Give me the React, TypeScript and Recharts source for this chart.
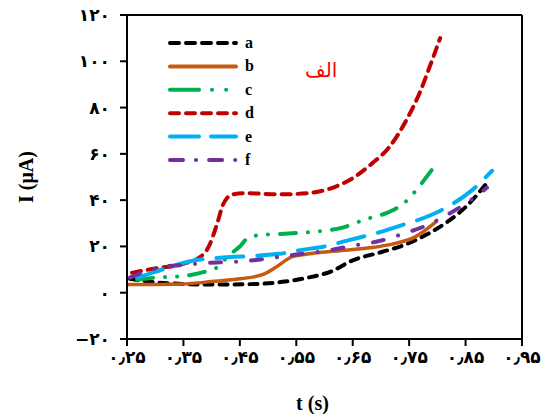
import React from 'react';
import { LineChart, Line, XAxis, YAxis, ReferenceLine, Label } from 'recharts';

// ---- data ----
const seriesNames = ['a', 'b', 'c', 'd', 'e', 'f'];

const tA = [0.255, 0.3, 0.4, 0.48, 0.53, 0.57, 0.61, 0.65, 0.7, 0.74, 0.78, 0.82, 0.85, 0.888];
const iA = [6.0, 4.5, 3.5, 3.8, 4.8, 6.5, 9, 14, 17.5, 20.5, 25, 31, 37, 47.5];

const tB = [0.25, 0.35, 0.4, 0.45, 0.49, 0.515, 0.543, 0.573, 0.62, 0.68, 0.72, 0.76, 0.798];
const iB = [3.5, 3.8, 4.8, 6.0, 7.8, 11.2, 15.6, 16.8, 18, 19.4, 21, 24, 30.7];

const tC = [0.268, 0.3, 0.35, 0.38, 0.41, 0.43, 0.45, 0.465, 0.49, 0.53, 0.58, 0.63, 0.67, 0.72, 0.74, 0.768, 0.79];
const iC = [5.6, 6.5, 7.2, 8.6, 11, 16, 20, 23.8, 25, 25.5, 26.3, 28, 31.5, 35.5, 38.5, 46, 53];

const tD = [0.259, 0.3, 0.35, 0.38, 0.395, 0.41, 0.42, 0.437, 0.46, 0.52, 0.57, 0.61, 0.65, 0.685, 0.715, 0.745, 0.768, 0.79, 0.805];
const iD = [8.6, 10.5, 12.5, 15.5, 20, 30, 38, 42.5, 43, 42.5, 43, 45, 49.5, 56, 63, 74.5, 86, 100, 110];

const tE = [0.268, 0.3, 0.33, 0.37, 0.42, 0.48, 0.52, 0.56, 0.6, 0.64, 0.7, 0.74, 0.79, 0.815, 0.86, 0.897];
const iE = [6.5, 9, 11.5, 14, 15.2, 16, 16.8, 18.5, 20, 22.5, 26.3, 29.4, 33.7, 36.7, 44, 52.7];

const tF = [0.255, 0.28, 0.31, 0.35, 0.4, 0.45, 0.5, 0.55, 0.6, 0.65, 0.7, 0.74, 0.78, 0.82, 0.85, 0.888];
const iF = [6.5, 9, 11, 12, 13, 13.5, 14.8, 16.5, 18, 20.3, 22.5, 25.5, 29, 34, 38.5, 45.4];

const xTicks = [0.25, 0.35, 0.45, 0.55, 0.65, 0.75, 0.85, 0.95];
const yTicks = [-20, 0, 20, 40, 60, 80, 100, 120];

const xTitle = 't (s)';
const yTitle = 'I (\u03BCA)';
const panelTitle = 'الف';

// ---- styles ----
const colors = ['#000000', '#C55A11', '#00B050', '#C00000', '#00B0F0', '#7030A0'];
const dashes = ['8 7', undefined, '16 12 0.1 12 0.1 12', '9 7', '27 14', '11 15 0.1 15'];
const legendDashes = ['9 7', undefined, '29 13 0.1 14 0.1 100', '9 7', '29 12', '13 13 0.1 13'];

const series = [
  [tA, iA], [tB, iB], [tC, iC], [tD, iD], [tE, iE], [tF, iF],
].map(([ts, is]) => ts.map((t, k) => ({ t, v: is[k] })));

const faDigits = '۰۱۲۳۴۵۶۷۸۹';
const fa = (n: number) => {
  const s = String(Math.round(n * 100) / 100);
  return s
    .replace(/[0-9]/g, (d) => faDigits[Number(d)])
    .replace('.', '٫')
    .replace('-', '\u2212');
};

const serif = "'Times New Roman', 'Liberation Serif', 'DejaVu Serif', serif";
const tickStyle = { fill: '#000', fontSize: 17, fontWeight: 700, fontFamily: "'DejaVu Sans', sans-serif" };

function LegendBox() {
  const rowH = 23.4;
  return (
    <svg width={110} height={150} style={{ position: 'absolute', left: 160, top: 31 }}>
      {seriesNames.map((n, k) => {
        const y = 12 + k * rowH;
        return (
          <g key={n}>
            <line x1={10} x2={76} y1={y} y2={y} stroke={colors[k]} strokeWidth={4}
              strokeDasharray={legendDashes[k]} strokeLinecap="round" />
            <text x={85} y={y + 5} fontFamily={serif} fontWeight={700} fontSize={16} fill="#000">{n}</text>
          </g>
        );
      })}
    </svg>
  );
}

export default function App() {
  return (
    <div style={{ position: 'absolute', left: 0, top: 0, width: 549, height: 414, background: '#fff' }}>
      <LineChart width={549} height={414} margin={{ top: 15, right: 27, bottom: 0, left: 0 }}>
        <XAxis type="number" dataKey="t" domain={[0.25, 0.95]} ticks={xTicks} tickFormatter={fa}
          height={75} tickSize={7} tickMargin={5} allowDataOverflow
          axisLine={{ stroke: '#000', strokeWidth: 2 }} tickLine={{ stroke: '#000', strokeWidth: 2 }}
          tick={tickStyle}>
          <Label value={xTitle} position="insideBottom" offset={4} dx={-12}
            style={{ fill: '#000', fontSize: 20, fontWeight: 700, fontFamily: serif }} />
        </XAxis>
        <YAxis type="number" domain={[-20, 120]} ticks={yTicks} tickFormatter={fa}
          width={127} tickSize={7} tickMargin={10} allowDataOverflow
          axisLine={{ stroke: '#000', strokeWidth: 2 }} tickLine={{ stroke: '#000', strokeWidth: 2 }}
          tick={tickStyle}>
          <Label value={yTitle} position="insideLeft" offset={26} angle={-90}
            style={{ fill: '#000', fontSize: 20, fontWeight: 700, fontFamily: serif, textAnchor: 'middle' }} />
        </YAxis>
        <ReferenceLine y={120} stroke="#000" strokeWidth={2} />
        <ReferenceLine x={0.95} stroke="#000" strokeWidth={2} />
        {series.map((d, k) => (
          <Line key={seriesNames[k]} data={d} dataKey="v" name={seriesNames[k]} type="monotone"
            stroke={colors[k]} strokeWidth={k === 1 ? 3.5 : 4} strokeDasharray={dashes[k]}
            strokeLinecap="round" dot={false} activeDot={false} isAnimationActive={false} />
        ))}
      </LineChart>
      <LegendBox />
      <div style={{ position: 'absolute', left: 305, top: 58, color: '#FF0000', fontSize: 20,
        fontFamily: "'DejaVu Sans', 'Noto Sans', sans-serif", direction: 'rtl' }}>{panelTitle}</div>
    </div>
  );
}
